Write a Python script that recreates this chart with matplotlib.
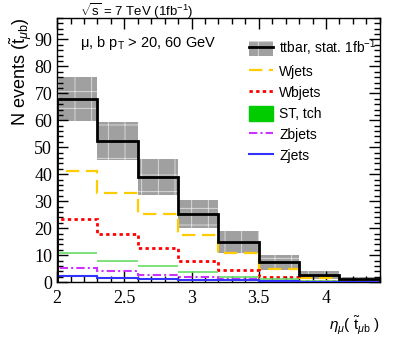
import numpy as np
import matplotlib.pyplot as plt
from matplotlib.patches import Patch
from matplotlib.lines import Line2D
from matplotlib.ticker import MultipleLocator

edges = [2.0, 2.3, 2.6, 2.9, 3.2, 3.5, 3.8, 4.1, 4.4]
ttbar = [68.0, 52.3, 39.0, 25.4, 14.9, 7.3, 2.6, 1.0]
ttbar_err = [8.2, 7.2, 6.6, 5.2, 4.0, 2.7, 1.6, 1.0]
wjets = [41.2, 33.1, 25.2, 17.3, 10.6, 4.8, 1.5, 0.4]
wbjets = [23.3, 17.9, 12.5, 8.0, 4.5, 2.0, 0.5, 0.1]
st_tch = [10.9, 8.0, 5.9, 3.7, 2.0, 1.0, 0.4, 0.1]
zbjets = [5.3, 4.0, 2.8, 1.9, 1.1, 0.5, 0.2, 0.05]
zjets = [2.1, 1.6, 1.2, 0.9, 0.6, 0.3, 0.1, 0.05]

serif = 'Liberation Serif'
sans = 'Liberation Sans'
plt.rcParams['hatch.linewidth'] = 0.6
plt.rcParams['mathtext.fontset'] = 'custom'
plt.rcParams['mathtext.rm'] = sans
plt.rcParams['mathtext.it'] = sans + ':italic'

fig = plt.figure(figsize=(3.99, 3.37), dpi=100)
ax = fig.add_axes([0.143, 0.163, 0.809, 0.784])

lo = np.array(edges[:-1])
hi = np.array(edges[1:])
tt = np.array(ttbar)
er = np.array(ttbar_err)

# stat band
ax.bar(lo, 2 * er, width=hi - lo, bottom=tt - er, align='edge',
       color='#a0a0a0', edgecolor='#e0e0e0', hatch='+', linewidth=0, zorder=1)

ax.stairs(wjets, edges, color='#ffcc00', lw=1.6, ls=(0, (6, 3)), zorder=3)
ax.stairs(wbjets, edges, color='red', lw=2, ls=(0, (1.2, 1.2)), zorder=3)
ax.hlines(st_tch, lo, hi, color='#66dd66', lw=1.2, zorder=3)
ax.stairs(zbjets, edges, color='#cc33ff', lw=1.5, ls=(0, (4, 1.5, 1, 1.5)), zorder=3)
ax.stairs(zjets, edges, color='#3333ff', lw=1.5, zorder=3)
ax.stairs(ttbar, edges, color='black', lw=2, zorder=4)

ax.set_xlim(2.0, 4.4)
ax.set_ylim(0, 98)
ax.xaxis.set_major_locator(MultipleLocator(0.5))
ax.xaxis.set_minor_locator(MultipleLocator(0.1))
ax.yaxis.set_major_locator(MultipleLocator(10))
ax.yaxis.set_minor_locator(MultipleLocator(2))
ax.tick_params(which='both', direction='in', top=True, right=True, width=1)
ax.tick_params(which='major', length=8)
ax.tick_params(which='minor', length=4)
ax.tick_params(axis='x', pad=6)
for lab in ax.get_yticklabels():
    lab.set_fontfamily(serif)
    lab.set_fontsize(13)
ax.set_xticks([2, 2.5, 3, 3.5, 4])
ax.set_xticklabels(['2', '2.5', '3', '3.5', '4'], fontfamily=serif, fontsize=13)

for s in ax.spines.values():
    s.set_linewidth(1)

ax.set_xlabel(r'$\eta_{\mu}$( $\tilde{\mathrm{t}}_{\mu\mathrm{b}}$ )', fontfamily=sans,
              fontsize=11, loc='right', labelpad=5)
ax.set_ylabel(r'N events ($\tilde{\mathrm{t}}_{\mu\mathrm{b}}$)', fontfamily=sans,
              fontsize=13, loc='top', labelpad=0)

fig.text(0.2, 0.995, r'$\sqrt{\mathrm{s}}$ = 7 TeV (1fb$^{-1}$)', fontfamily=sans,
         fontsize=9.5, va='top')
ax.text(0.072, 0.905, r'μ, b p$_\mathrm{T}$ > 20, 60 GeV', transform=ax.transAxes,
        fontfamily=sans, fontsize=10.5, va='center')

handles = [
    (Patch(facecolor='#a0a0a0', edgecolor='#e0e0e0', hatch='+', lw=0),
     Line2D([], [], color='black', lw=2)),
    Line2D([], [], color='#ffcc00', lw=1.6, ls=(0, (6, 3))),
    Line2D([], [], color='red', lw=2, ls=(0, (1.2, 1.2))),
    Patch(facecolor='#00cc00', edgecolor='#00cc00'),
    Line2D([], [], color='#cc33ff', lw=1.5, ls=(0, (4, 1.5, 1, 1.5))),
    Line2D([], [], color='#3333ff', lw=1.5),
]
labels = ['ttbar, stat. 1fb$^{-1}$', 'Wjets', 'Wbjets', 'ST, tch', 'Zbjets', 'Zjets']
ax.legend(handles, labels, loc='upper left', bbox_to_anchor=(0.578, 0.948),
          frameon=False, prop={'family': sans, 'size': 10}, handlelength=1.7,
          handleheight=1.3, labelspacing=0.42, handletextpad=0.45, borderaxespad=0)

fig.savefig('out.png', dpi=100)
